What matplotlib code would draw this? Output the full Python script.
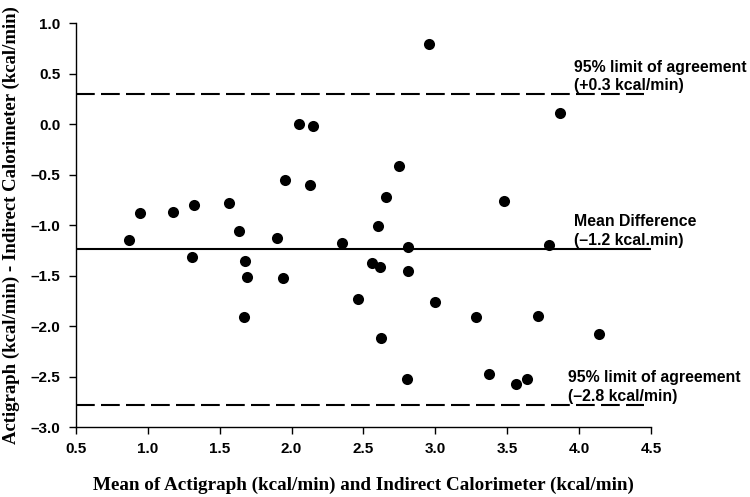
import matplotlib
matplotlib.use("Agg")
import matplotlib.pyplot as plt

# Bland-Altman data
mean_vals = [0.87, 0.945, 1.175, 1.323, 1.564, 1.632, 1.898, 1.956, 2.049, 2.151,
             2.130, 2.350, 2.603, 2.958, 3.867, 2.747, 2.659, 3.480, 3.791, 2.812,
             1.307, 1.676, 1.687, 1.940, 1.666, 2.459, 2.561, 2.615, 2.810, 2.997,
             3.285, 3.712, 2.622, 4.136, 2.800, 3.371, 3.561, 3.637]
diff_vals = [-1.149, -0.878, -0.874, -0.805, -0.782, -1.063, -1.132, -0.558, 0.0, -0.023,
             -0.607, -1.181, -1.007, 0.789, 0.106, -0.413, -0.726, -0.759, -1.198, -1.221,
             -1.313, -1.353, -1.512, -1.522, -1.911, -1.730, -1.379, -1.412, -1.455, -1.765,
             -1.914, -1.901, -2.116, -2.082, -2.525, -2.472, -2.574, -2.525]

MEAN_DIFF = -1.24
UPPER_LOA = 0.30
LOWER_LOA = -2.78

sans = ["Liberation Sans", "DejaVu Sans"]
serif = ["Liberation Serif", "DejaVu Serif"]

fig = plt.figure(figsize=(7.5, 4.97), dpi=100)
ax = fig.add_axes([0.1013, 0.1408, 0.7667, 0.8129])

ax.scatter(mean_vals, diff_vals, s=64, color="black", zorder=3, linewidths=0)

ax.plot([0.5, 4.5], [MEAN_DIFF, MEAN_DIFF], color="black", lw=1.5)
ax.plot([0.5, 4.45], [UPPER_LOA, UPPER_LOA], color="black", lw=1.5, dashes=(9, 3))
ax.plot([0.5, 4.45], [LOWER_LOA, LOWER_LOA], color="black", lw=1.5, dashes=(9, 3))

ax.set_xlim(0.5, 4.5)
ax.set_ylim(-3.0, 1.0)
ax.set_xticks([0.5, 1.0, 1.5, 2.0, 2.5, 3.0, 3.5, 4.0, 4.5])
ax.set_yticks([-3.0, -2.5, -2.0, -1.5, -1.0, -0.5, 0.0, 0.5, 1.0])
ax.xaxis.set_major_formatter(matplotlib.ticker.FormatStrFormatter("%.1f"))
ax.yaxis.set_major_formatter(matplotlib.ticker.FuncFormatter(
    lambda v, p: ("%.1f" % v).replace("-", "\u2013")))

for s in ["top", "right"]:
    ax.spines[s].set_visible(False)
for s in ["left", "bottom"]:
    ax.spines[s].set_linewidth(1.0)
ax.tick_params(direction="out", length=5, width=1, pad=6)
for lab in ax.get_xticklabels() + ax.get_yticklabels():
    lab.set_family(sans)
    lab.set_fontweight("bold")
    lab.set_fontsize(11)

ax.set_xlabel("Mean of Actigraph (kcal/min) and Indirect Calorimeter (kcal/min)",
              family=serif, fontweight="bold", fontsize=13.8, labelpad=15)
ax.set_ylabel("Actigraph (kcal/min) - Indirect Calorimeter (kcal/min)",
              family=serif, fontweight="bold", fontsize=13.5, labelpad=8)

tkw = dict(family=sans, fontweight="bold", fontsize=11.4, va="center", ha="left",
           clip_on=False)
ax.text(3.964, 0.564, "95% limit of agreement", **tkw)
ax.text(3.964, 0.386, "(+0.3 kcal/min)", **tkw)
ax.text(3.964, -0.967, "Mean Difference", **tkw)
ax.text(3.964, -1.149, "(\u20131.2 kcal.min)", **tkw)
ax.text(3.923, -2.505, "95% limit of agreement", **tkw)
ax.text(3.923, -2.693, "(\u20132.8 kcal/min)", **tkw)

fig.savefig("out.png", dpi=100)
